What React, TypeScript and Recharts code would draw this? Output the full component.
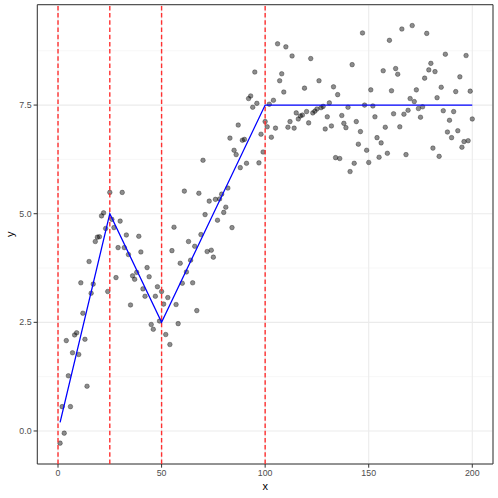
import * as React from "react";
import {
  ComposedChart,
  Scatter,
  XAxis,
  YAxis,
  CartesianGrid,
  ReferenceArea,
} from "recharts";

// observed y, one per x = 1..200
const yObs = [
  -0.28, 0.56, -0.05, 2.08, 1.27, 0.56, 1.8, 2.21, 2.26, 1.76,
  3.41, 2.71, 2.11, 1.03, 3.9, 3.17, 3.38, 4.36, 4.46, 4.47,
  4.95, 5.02, 4.66, 3.21, 5.49, 4.87, 4.68, 3.53, 4.22, 4.83,
  5.49, 4.22, 4.51, 4.06, 2.9, 3.57, 3.49, 3.65, 4.48, 4.12,
  3.27, 3.1, 3.76, 3.55, 2.45, 2.34, 3.1, 3.32, 2.53, 3.21,
  2.92, 2.22, 3.07, 1.99, 4.15, 4.69, 2.91, 2.47, 3.86, 3.4,
  5.52, 3.66, 4.36, 3.93, 3.41, 4.25, 2.77, 5.47, 4.52, 6.23,
  4.98, 4.13, 5.29, 4.16, 4.0, 5.33, 4.85, 5.34, 5.45, 5.03,
  5.15, 5.59, 6.74, 4.68, 6.46, 6.36, 7.04, 6.06, 6.69, 6.71,
  6.16, 7.65, 7.71, 7.45, 8.26, 7.54, 6.17, 6.83, 6.42, 7.12,
  7.0, 7.52, 6.76, 7.61, 6.97, 8.91, 8.06, 8.22, 7.8, 8.84,
  6.99, 7.12, 8.63, 6.97, 7.32, 7.18, 7.25, 7.27, 7.89, 7.35,
  7.09, 8.57, 7.32, 7.36, 7.41, 8.06, 7.44, 7.47, 6.95, 7.23,
  7.55, 7.02, 7.92, 6.29, 7.74, 6.27, 7.26, 7.08, 6.98, 7.45,
  5.97, 8.43, 6.16, 7.12, 6.6, 6.89, 9.16, 7.5, 6.46, 6.18,
  7.85, 7.48, 7.23, 6.75, 6.3, 6.63, 8.29, 6.99, 6.39, 8.99,
  7.83, 7.3, 8.34, 8.21, 7.0, 9.25, 7.29, 6.36, 7.38, 7.65,
  9.33, 7.58, 7.85, 7.42, 7.22, 7.46, 8.12, 9.15, 8.31, 8.46,
  6.51, 8.27, 7.67, 6.32, 7.91, 7.37, 8.67, 6.88, 7.15, 6.75,
  7.35, 7.81, 6.91, 8.15, 6.53, 6.66, 8.64, 6.68, 7.82, 7.18,
];

// fitted piecewise line
const fitX = [1, 25, 50, 100, 200];
const fitY = [0.2, 5, 2.5, 7.5, 7.5];

// dashed breakpoints
const breaks = [0, 25, 50, 100];

const xTicks = [0, 50, 100, 150, 200];
const xMinor = [25, 75, 125, 175];
const yTicks = [0, 2.5, 5, 7.5];
const yMinor = [1.25, 3.75, 6.25, 8.75];

const xDomain: [number, number] = [-10, 210];
const yDomain: [number, number] = [-0.76, 9.81];

const points = yObs.map((y, i) => ({ x: i + 1, y }));
const fit = fitX.map((x, i) => ({ x, y: fitY[i] }));

const FONT = "'Liberation Sans', Arial, sans-serif";
const noShape = () => <g />;

const Dot = (p: any) => (
  <circle
    cx={p.cx}
    cy={p.cy}
    r={2.3}
    fill="rgba(0,0,0,0.45)"
    stroke="rgba(0,0,0,0.45)"
    strokeWidth={0.7}
  />
);

const XTitle = ({ viewBox }: any) => (
  <text
    x={viewBox.x + viewBox.width / 2}
    y={viewBox.y + 26}
    textAnchor="middle"
    fontSize={11}
    fill="#000"
    fontFamily={FONT}
  >
    x
  </text>
);

const YTitle = ({ viewBox }: any) => {
  const cx = viewBox.x + 14.2;
  const cy = viewBox.y + viewBox.height / 2;
  return (
    <text
      x={cx}
      y={cy}
      transform={`rotate(-90 ${cx} ${cy})`}
      textAnchor="middle"
      fontSize={11}
      fill="#000"
      fontFamily={FONT}
    >
      y
    </text>
  );
};

export default function App() {
  return (
    <div style={{ position: "absolute", left: 0, top: 0, background: "#fff" }}>
      <ComposedChart
        width={498}
        height={498}
        margin={{ top: 4.7, right: 5, bottom: 0, left: 0 }}
        style={{ fontFamily: FONT }}
      >
        <XAxis
          xAxisId="minor"
          type="number"
          domain={xDomain}
          ticks={xMinor}
          allowDataOverflow
          hide
        />
        <YAxis
          yAxisId="minor"
          type="number"
          domain={yDomain}
          ticks={yMinor}
          allowDataOverflow
          hide
        />
        <XAxis
          type="number"
          dataKey="x"
          domain={xDomain}
          ticks={xTicks}
          allowDataOverflow
          height={34}
          axisLine={false}
          tickSize={3.7}
          tickLine={{ stroke: "#333333", strokeWidth: 1 }}
          tick={{ fill: "#4D4D4D", fontSize: 8.8, fontFamily: FONT }}
          label={{ content: XTitle }}
        />
        <YAxis
          type="number"
          dataKey="y"
          domain={yDomain}
          ticks={yTicks}
          allowDataOverflow
          width={37.3}
          axisLine={false}
          tickSize={3.7}
          tickLine={{ stroke: "#333333", strokeWidth: 1 }}
          tickFormatter={(v: number) => v.toFixed(1)}
          tick={{ fill: "#4D4D4D", fontSize: 8.8, fontFamily: FONT }}
          label={{ content: YTitle }}
        />
        <CartesianGrid xAxisId="minor" yAxisId="minor" stroke="#F2F2F2" strokeWidth={0.6} />
        <CartesianGrid stroke="#EBEBEB" strokeWidth={1.1} />
        <Scatter data={points} shape={Dot} isAnimationActive={false} />
        {breaks.map((b) => (
          <Scatter
            key={"b" + b}
            data={[
              { x: b, y: yDomain[0] },
              { x: b, y: yDomain[1] },
            ]}
            line={{ stroke: "#FF3030", strokeWidth: 1.4, strokeDasharray: "4.5 2.7" }}
            shape={noShape}
            isAnimationActive={false}
          />
        ))}
        <Scatter
          data={fit}
          line={{ stroke: "#0000FF", strokeWidth: 1.3 }}
          shape={noShape}
          isAnimationActive={false}
        />
        <ReferenceArea
          x1={xDomain[0]}
          x2={xDomain[1]}
          y1={yDomain[0]}
          y2={yDomain[1]}
          fill="none"
          fillOpacity={0}
          stroke="#333333"
          strokeWidth={1}
        />
      </ComposedChart>
    </div>
  );
}
